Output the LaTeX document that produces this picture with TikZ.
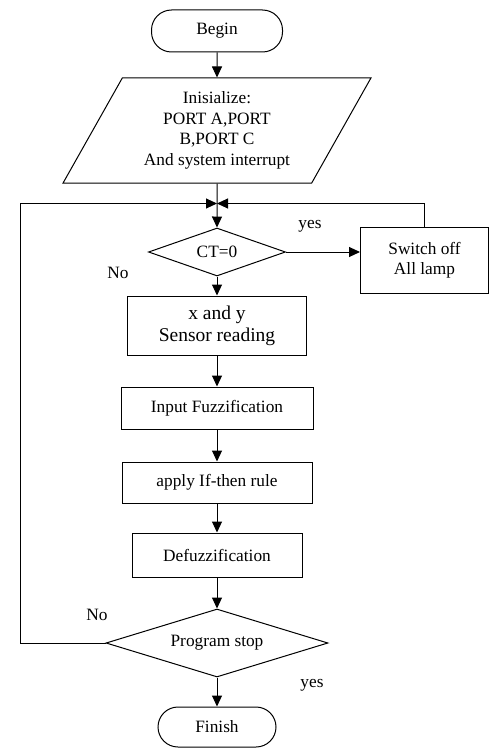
\documentclass[tikz,border=0pt]{standalone}
\usepackage{fontspec}
\setmainfont{Liberation Serif}
\usetikzlibrary{arrows.meta,positioning,shapes.geometric}

\begin{document}
\begin{tikzpicture}[x=1pt,y=1pt,
  every node/.style={font=\fontsize{17.3}{20.5}\selectfont,align=center,inner sep=0pt},
  procbox/.style={draw,line width=1pt,rectangle},
  termbox/.style={draw,line width=1pt,rectangle,rounded corners=20pt},
  decide/.style={draw,line width=1pt,diamond},
  iobox/.style={draw,line width=1pt,trapezium,trapezium stretches=true,trapezium left angle=59.4,trapezium right angle=120.6},
  flow/.style={-{Triangle[length=11pt,width=10pt]},line width=1pt}]
  \useasboundingbox (0,0) rectangle (489,-749);
  \node[termbox,minimum width=131pt,minimum height=42pt] (begin) at (217,-31) {Begin};
  \node[iobox,minimum width=309pt,minimum height=105pt] (init) at (217,-130.5) {Inisialize:\\PORT A,PORT\\B,PORT C\\And system interrupt};
  \node[decide,aspect=2.85,minimum width=137pt,minimum height=48pt] (ct) at (217,-252) {CT=0};
  \coordinate[above=24pt of ct.north] (merge);
  \node[procbox,minimum width=128pt,minimum height=66pt,right=74pt of ct,yshift=-8pt] (lamp) {Switch off\\All lamp};
  \node[procbox,minimum width=179pt,minimum height=59pt,below=19pt of ct,font=\fontsize{19.5}{22}\selectfont] (sensor) {x and y\\Sensor reading};
  \node[procbox,minimum width=192pt,minimum height=42pt,below=31pt of sensor] (fuzz) {Input Fuzzification};
  \node[procbox,minimum width=190pt,minimum height=41pt,below=32pt of fuzz] (rule) {apply If-then rule};
  \node[procbox,minimum width=170pt,minimum height=44pt,below=29pt of rule] (defuzz) {Defuzzification};
  \node[decide,aspect=3.26,minimum width=222pt,minimum height=68pt,below=31pt of defuzz] (stop) {Program stop};
  \node[termbox,minimum width=118pt,minimum height=40pt,below=29pt of stop] (finish) {Finish};
  % branch labels
  \node (ctyes) at (310,-226) {yes};
  \node (ctno) at (118,-273) {No};
  \node (stopno) at (97,-615) {No};
  \node (stopyes) at (312,-685) {yes};
  % connectors
  \draw[flow] (begin) -- (init);
  \draw[flow] (init) -- (ct);
  \draw[flow] (ct.east) -- (ct.east -| lamp.west);
  \draw[flow] (lamp.north) |- (merge);
  \draw[flow] (ct) -- (sensor);
  \draw[flow] (sensor) -- (fuzz);
  \draw[flow] (fuzz) -- (rule);
  \draw[flow] (rule) -- (defuzz);
  \draw[flow] (defuzz) -- (stop);
  \draw[flow] (stop) -- (finish);
  \draw[flow] (stop.west) -- ++(-85,0) |- (merge);
\end{tikzpicture}
\end{document}
